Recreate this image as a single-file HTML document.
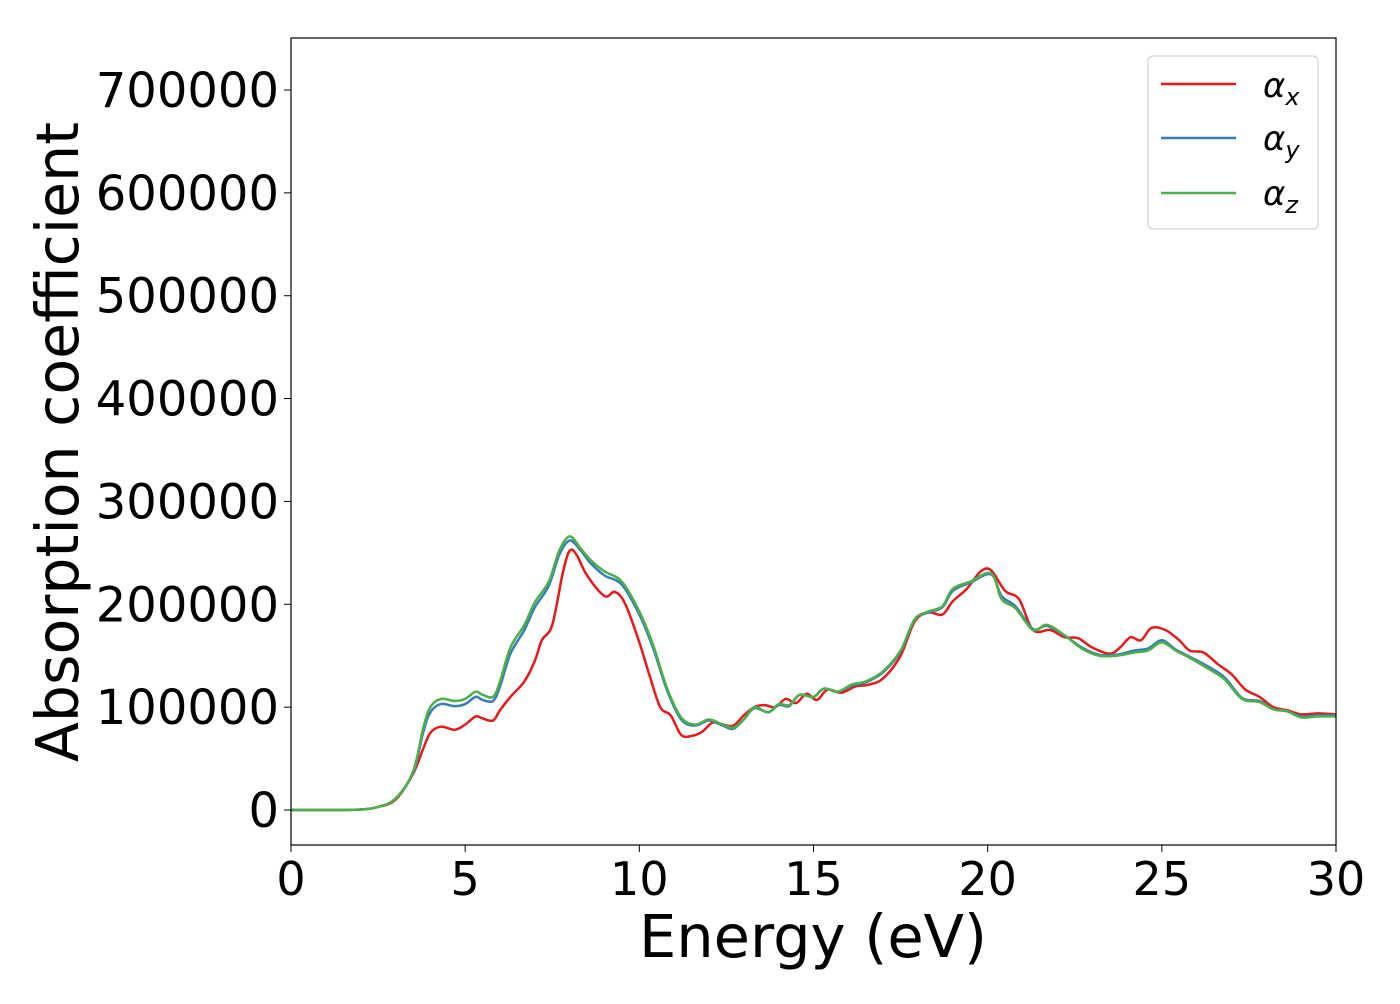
<!DOCTYPE html>
<html><head><meta charset="utf-8"><style>
body{margin:0;background:#fff;font-family:"DejaVu Sans","Liberation Sans",sans-serif}
text{font-family:"DejaVu Sans","Liberation Sans",sans-serif}
</style></head><body>
<svg id="chart" width="1400" height="1000" xmlns="http://www.w3.org/2000/svg">
<rect width="1400" height="1000" fill="#fff"/>
<g id="plot"></g>
<rect x="291" y="38" width="1045" height="807" fill="none" stroke="#000" stroke-width="1.2"/>
<g id="xticks"></g><g id="yticks"></g>
<text x="813" y="957" font-size="59" text-anchor="middle">Energy (eV)</text>
<text transform="translate(78,442) rotate(-90)" font-size="58.5" text-anchor="middle">Absorption coefficient</text>
<g>
<rect x="1148" y="56" width="170" height="173" rx="5" fill="#fff" stroke="#ccc"/>
<line x1="1161" y1="84" x2="1236" y2="84" stroke="#e41a1c" stroke-width="2.5"/>
<text x="1263" y="97" font-size="34" font-style="italic">α<tspan font-size="24" dy="8">x</tspan></text>
<line x1="1161" y1="138" x2="1236" y2="138" stroke="#377eb8" stroke-width="2.5"/>
<text x="1263" y="150" font-size="34" font-style="italic">α<tspan font-size="24" dy="8">y</tspan></text>
<line x1="1161" y1="193" x2="1236" y2="193" stroke="#4daf4a" stroke-width="2.5"/>
<text x="1263" y="205" font-size="34" font-style="italic">α<tspan font-size="24" dy="8">z</tspan></text>
</g>
</svg>
<script>
const xTicks=[0,5,10,15,20,25,30];
const yTicks=[0,100000,200000,300000,400000,500000,600000,700000];
const xE=[0,1,2,2.5,3,3.5,3.8,4,4.3,4.7,5,5.3,5.5,5.8,6,6.3,6.7,7,7.2,7.5,7.8,8,8.2,8.5,9,9.3,9.6,10,10.3,10.6,10.9,11.2,11.5,11.8,12.1,12.4,12.7,13,13.3,13.6,13.9,14.2,14.5,14.8,15.1,15.4,15.8,16.2,16.6,17,17.5,17.9,18.3,18.7,19,19.4,19.8,20.1,20.5,20.9,21.3,21.8,22.2,22.6,23,23.5,23.8,24.1,24.4,24.7,25.1,25.5,25.8,26.2,26.6,27,27.4,27.8,28.2,28.6,29,29.5,30];
const xVals=[0,0,500,3000,10000,35000,60000,75000,81000,78000,83000,91000,89000,87000,97000,110000,125000,145000,165000,180000,230000,252000,248000,228000,208000,212000,200000,163000,130000,100000,92000,73000,72000,76000,85000,83000,82000,92000,100000,102000,100000,108000,104000,113000,107000,117000,114000,120000,122000,128000,150000,183000,192000,190000,203000,215000,232000,233000,213000,205000,175000,175000,168000,167000,158000,152000,158000,168000,165000,177000,175000,165000,155000,153000,142000,132000,117000,110000,100000,97000,93000,94000,93000];
const zE=[0,1,2,2.5,3,3.5,3.8,4,4.3,4.7,5,5.3,5.5,5.8,6,6.3,6.7,7,7.4,7.7,8,8.3,8.6,9,9.5,10,10.4,10.8,11.2,11.6,12,12.4,12.7,13,13.3,13.7,14,14.3,14.6,15,15.3,15.7,16.1,16.5,17,17.5,17.9,18.3,18.7,19,19.5,20.1,20.4,20.8,21.3,21.7,22.2,22.7,23.2,23.7,24.2,24.6,25,25.4,25.8,26.3,26.8,27.3,27.8,28.2,28.6,29,29.5,30];
const yVals=[0,0,500,3000,11000,36000,76000,95000,103000,101000,103000,110000,107000,106000,120000,152000,175000,197000,218000,248000,262000,253000,240000,228000,219000,190000,157000,116000,88000,82000,87000,82000,79000,88000,99000,95000,102000,101000,112000,110000,118000,115000,121000,124000,134000,154000,185000,192000,197000,213000,221000,229000,208000,198000,176000,179000,170000,158000,151000,151000,155000,157000,165000,156000,149000,140000,129000,109000,106000,98000,96000,91000,92000,92000];
const zVals=[0,0,500,3000,11000,37000,80000,100000,108000,106000,108000,115000,112000,110000,125000,158000,180000,202000,222000,252000,266000,255000,243000,232000,222000,193000,160000,118000,90000,83000,88000,83000,80000,88000,100000,95000,103000,102000,112000,110000,118000,115000,122000,125000,135000,155000,185000,193000,198000,215000,222000,230000,205000,196000,175000,180000,170000,157000,150000,150000,153000,155000,163000,155000,148000,138000,127000,108000,105000,98000,96000,90000,91000,91000];
const NS='http://www.w3.org/2000/svg';
const sx=v=>291+v*(1045/30), sy=v=>810-v*(720/700000);
function path(xs,ys){const p=xs.map((x,i)=>[sx(x),sy(ys[i])]);let d='M'+p[0][0]+','+p[0][1];
for(let i=0;i<p.length-1;i++){const a=p[Math.max(i-1,0)],b=p[i],c=p[i+1],e=p[Math.min(i+2,p.length-1)];
d+=' C'+(b[0]+(c[0]-a[0])/6)+','+(b[1]+(c[1]-a[1])/6)+' '+(c[0]-(e[0]-b[0])/6)+','+(c[1]-(e[1]-b[1])/6)+' '+c[0]+','+c[1];}return d;}
const plot=document.getElementById('plot');
[[xE,xVals,'#e41a1c','series-alpha-x'],[zE,yVals,'#377eb8','series-alpha-y'],[zE,zVals,'#4daf4a','series-alpha-z']].forEach(s=>{
const el=document.createElementNS(NS,'path');el.setAttribute('d',path(s[0],s[1]));el.setAttribute('fill','none');el.setAttribute('stroke',s[2]);el.setAttribute('stroke-width','2.5');


plot.appendChild(el);});
const xg=document.getElementById('xticks');
xTicks.forEach(t=>{const l=document.createElementNS(NS,'line');l.setAttribute('x1',sx(t));l.setAttribute('x2',sx(t));l.setAttribute('y1',845);l.setAttribute('y2',852);l.setAttribute('stroke','#000');xg.appendChild(l);
const tx=document.createElementNS(NS,'text');tx.setAttribute('x',sx(t));tx.setAttribute('y',895);tx.setAttribute('font-size','46');tx.setAttribute('text-anchor','middle');tx.textContent=t;


xg.appendChild(tx);});
const yg=document.getElementById('yticks');
yTicks.forEach(t=>{const l=document.createElementNS(NS,'line');l.setAttribute('x1',284);l.setAttribute('x2',291);l.setAttribute('y1',sy(t));l.setAttribute('y2',sy(t));l.setAttribute('stroke','#000');yg.appendChild(l);
const tx=document.createElementNS(NS,'text');tx.setAttribute('x',279);tx.setAttribute('y',sy(t)+17);tx.setAttribute('font-size','48');tx.setAttribute('text-anchor','end');tx.textContent=t;


yg.appendChild(tx);});
</script>
</body></html>
